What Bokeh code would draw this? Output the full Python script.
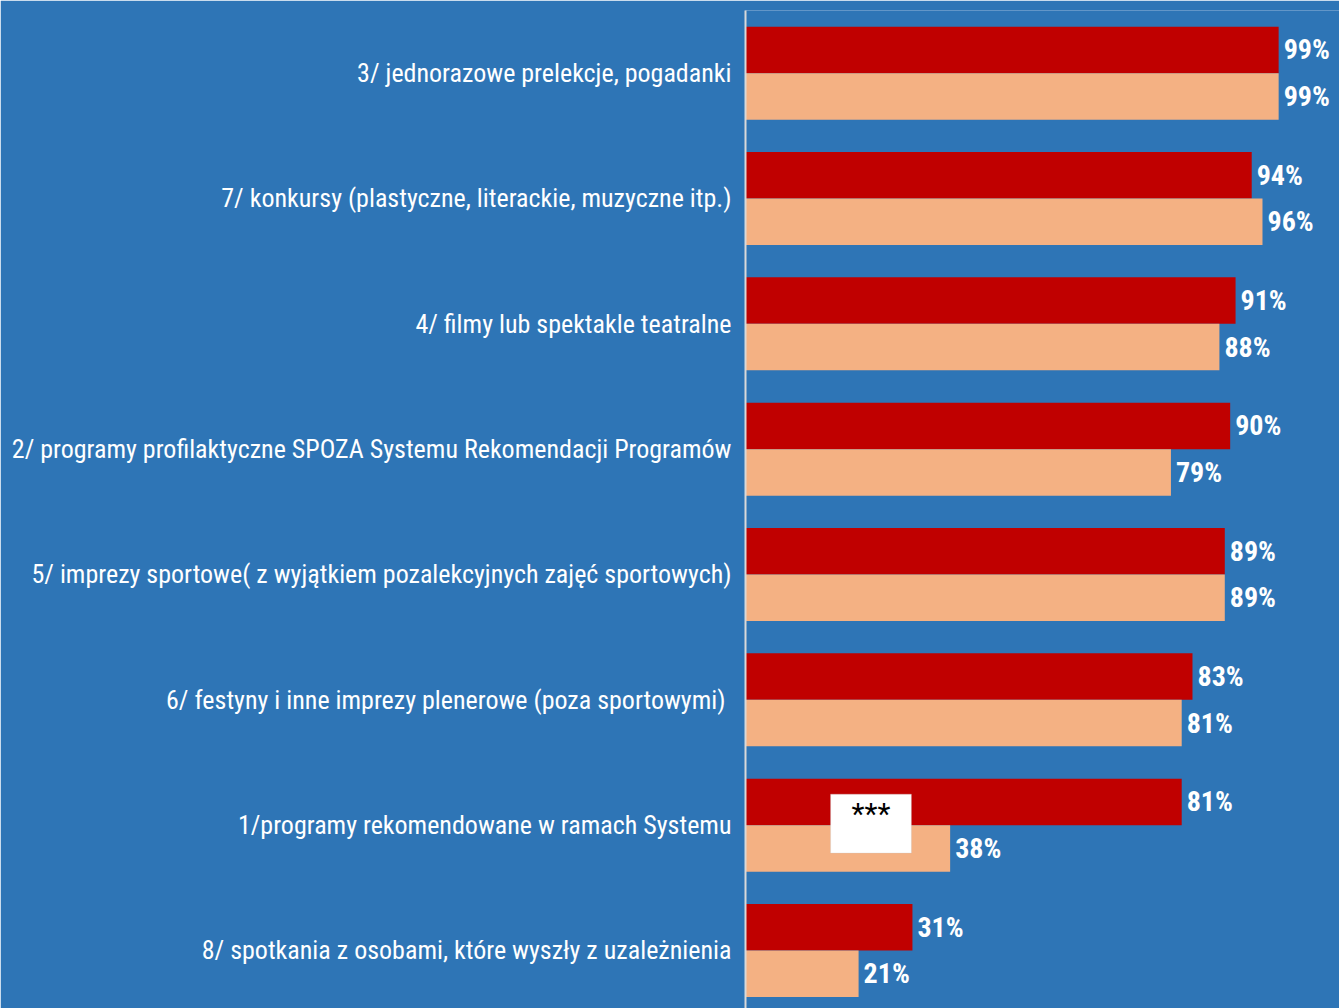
from bokeh.plotting import figure
from bokeh.models import Range1d, FixedTicker, BoxAnnotation, Label, ColumnDataSource
from bokeh.core.properties import value
from bokeh.embed import file_html
from bokeh.resources import INLINE

categories = [
    "3/ jednorazowe prelekcje, pogadanki",
    "7/ konkursy (plastyczne, literackie, muzyczne itp.)",
    "4/ filmy lub spektakle teatralne",
    "2/ programy profilaktyczne SPOZA Systemu Rekomendacji Programów",
    "5/ imprezy sportowe( z wyjątkiem pozalekcyjnych zajęć sportowych)",
    "6/  festyny i inne imprezy plenerowe (poza sportowymi)",
    "1/programy rekomendowane w ramach Systemu",
    "8/ spotkania z osobami, które wyszły z uzależnienia",
]
series_a = [99, 94, 91, 90, 89, 83, 81, 31]
series_b = [99, 96, 88, 79, 89, 81, 38, 21]

BG = "#2E75B6"
RED = "#C00000"
PEACH = "#F4B183"
FONT = "Roboto Condensed, DejaVu Sans Condensed, Roboto"
BAR_H = 0.371

pos = [-i for i in range(len(categories))]
src = ColumnDataSource(dict(
    y=pos,
    ya=[p + BAR_H / 2 for p in pos],
    yb=[p - BAR_H / 2 for p in pos],
    a=series_a, b=series_b,
    la=[f"{v}%" for v in series_a],
    lb=[f"{v}%" for v in series_b],
))

p = figure(width=1339, height=1008, output_backend="svg", toolbar_location=None,
           x_range=Range1d(0, 110.3), y_range=Range1d(-7.463, 0.5),
           min_border_left=745, min_border_right=0, min_border_top=10, min_border_bottom=0)
p.background_fill_color = BG
p.border_fill_color = BG
p.outline_line_color = None
p.xgrid.visible = False
p.ygrid.visible = False
p.xaxis.visible = False

p.hbar(y="ya", left=0, right="a", height=BAR_H, color=RED, line_color=None, source=src)
p.hbar(y="yb", left=0, right="b", height=BAR_H, color=PEACH, line_color=None, source=src)

p.text(x="a", y="ya", text="la", source=src, x_offset=5, text_align="left",
       text_baseline="middle", text_color="white", text_font=value(FONT),
       text_font_style="bold", text_font_size="28px")
p.text(x="b", y="yb", text="lb", source=src, x_offset=5, text_align="left",
       text_baseline="middle", text_color="white", text_font=value(FONT),
       text_font_style="bold", text_font_size="28px")

yax = p.yaxis[0]
yax.ticker = FixedTicker(ticks=pos)
yax.major_label_overrides = {p_: c for p_, c in zip(pos, categories)}
yax.major_label_text_color = "white"
yax.major_label_text_font = FONT
yax.major_label_text_font_size = "26px"
yax.major_label_standoff = 8
yax.major_tick_line_color = None
yax.minor_tick_line_color = None
yax.axis_line_color = "#D9D9D9"
yax.axis_line_width = 2

# "***" note box on group 7
box = BoxAnnotation(left=15.8, right=30.8, bottom=-6 - 0.223, top=-6 + 0.247,
                    fill_color="white", fill_alpha=1, line_color="#C8C8C8", line_width=1)
p.add_layout(box)
p.add_layout(Label(x=23.3, y=-6 + 0.09, text="***", text_align="center", text_baseline="middle",
                   text_color="black", text_font=FONT, text_font_size="30px"))

open("out.html", "w").write(file_html(p, INLINE))
